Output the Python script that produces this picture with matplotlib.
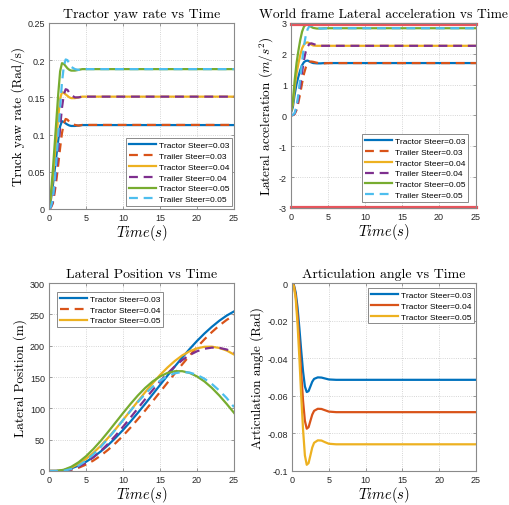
import matplotlib
matplotlib.use('Agg')
import matplotlib.pyplot as plt

plt.rcParams['font.family'] = ['Liberation Sans', 'DejaVu Sans']
plt.rcParams['mathtext.fontset'] = 'cm'
plt.rcParams['axes.unicode_minus'] = False

# time base for the transient plots
t_fast = [0, 0.25, 0.5, 0.75, 1.0, 1.25, 1.5, 1.75, 2.0, 2.25, 2.5, 2.75, 3.0, 3.5, 4.0, 4.5, 5.0, 6.0, 25]
# time base for lateral position
t_pos = list(range(0, 26))

# yaw rate (rad/s)
yaw_tractor_003 = [0, 0.012, 0.03, 0.051, 0.072, 0.093, 0.111, 0.118, 0.117, 0.115, 0.1134, 0.1122, 0.1116, 0.1116, 0.1122, 0.1128, 0.1128, 0.1128, 0.1128]
yaw_trailer_003 = [0, 0.0018, 0.0072, 0.021, 0.039, 0.06, 0.082, 0.102, 0.115, 0.121, 0.12, 0.117, 0.115, 0.113, 0.112, 0.113, 0.113, 0.113, 0.113]
yaw_tractor_004 = [0, 0.016, 0.04, 0.068, 0.096, 0.124, 0.148, 0.157, 0.156, 0.154, 0.152, 0.150, 0.149, 0.149, 0.150, 0.151, 0.151, 0.151, 0.151]
yaw_trailer_004 = [0, 0.0024, 0.0096, 0.028, 0.052, 0.08, 0.11, 0.136, 0.154, 0.161, 0.160, 0.156, 0.153, 0.150, 0.150, 0.151, 0.151, 0.151, 0.151]
yaw_tractor_005 = [0, 0.02, 0.05, 0.085, 0.12, 0.155, 0.185, 0.196, 0.195, 0.192, 0.189, 0.187, 0.186, 0.186, 0.187, 0.188, 0.188, 0.188, 0.188]
yaw_trailer_005 = [0, 0.003, 0.012, 0.035, 0.065, 0.1, 0.137, 0.17, 0.192, 0.201, 0.2, 0.195, 0.191, 0.188, 0.187, 0.188, 0.188, 0.188, 0.188]

# lateral acceleration (m/s^2)
acc_tractor_003 = [0.09, 0.27, 0.69, 1.02, 1.26, 1.47, 1.63, 1.73, 1.77, 1.78, 1.75, 1.72, 1.70, 1.69, 1.69, 1.70, 1.70, 1.70, 1.70]
acc_trailer_003 = [0, 0.012, 0.048, 0.18, 0.42, 0.72, 1.05, 1.35, 1.56, 1.68, 1.74, 1.75, 1.74, 1.71, 1.69, 1.69, 1.70, 1.70, 1.70]
acc_tractor_004 = [0.12, 0.36, 0.92, 1.36, 1.68, 1.96, 2.18, 2.30, 2.36, 2.37, 2.34, 2.30, 2.27, 2.26, 2.26, 2.26, 2.26, 2.26, 2.26]
acc_trailer_004 = [0, 0.016, 0.064, 0.24, 0.56, 0.96, 1.4, 1.8, 2.08, 2.24, 2.32, 2.34, 2.32, 2.28, 2.26, 2.26, 2.26, 2.26, 2.26]
acc_tractor_005 = [0.15, 0.45, 1.15, 1.7, 2.1, 2.45, 2.72, 2.88, 2.95, 2.96, 2.92, 2.87, 2.84, 2.82, 2.82, 2.83, 2.83, 2.83, 2.83]
acc_trailer_005 = [0, 0.02, 0.08, 0.3, 0.7, 1.2, 1.75, 2.25, 2.6, 2.8, 2.9, 2.92, 2.9, 2.85, 2.82, 2.82, 2.83, 2.83, 2.83]
acc_limit = 2.97

# lateral position (m)
pos_tractor_003 = [0, 0.03, 1.2, 4.1, 8.6, 14.7, 22.3, 31.3, 41.5, 53.0, 65.5, 78.8, 92.8, 107.3, 122.2, 137.2, 152.1, 166.8, 181.0, 194.7, 207.6, 219.4, 230.1, 239.7, 248.0, 254.7]
pos_trailer_003 = [0, 0, 0.2, 1.9, 5.2, 10.2, 16.7, 24.7, 34.0, 44.6, 56.3, 69.1, 82.7, 96.6, 111.2, 126.0, 140.9, 155.7, 170.2, 184.2, 197.6, 210.1, 221.6, 232.1, 241.1, 248.6]
pos_tractor_004 = [0, 0.05, 1.6, 5.4, 11.4, 19.3, 29.1, 40.4, 53.2, 66.9, 81.4, 96.3, 111.2, 125.9, 140.0, 153.2, 165.1, 175.6, 184.5, 191.1, 195.7, 198.2, 198.4, 196.4, 192.3, 185.9]
pos_trailer_004 = [0, 0, 0.3, 2.5, 6.9, 13.4, 21.9, 32.1, 43.7, 56.7, 70.6, 85.1, 99.9, 114.7, 129.2, 142.9, 155.6, 167.0, 177.0, 185.1, 191.1, 195.1, 196.9, 196.5, 193.9, 189.0]
pos_tractor_005 = [0, 0.06, 2.0, 6.7, 14.0, 23.6, 35.2, 48.3, 62.6, 77.5, 92.4, 106.9, 120.5, 132.6, 142.9, 150.8, 156.5, 159.2, 159.3, 156.5, 150.9, 142.9, 132.7, 120.6, 107.1, 92.8]
pos_trailer_005 = [0, 0, 0.35, 3.1, 8.6, 16.5, 26.6, 38.6, 52.0, 66.4, 81.1, 95.9, 110.0, 123.0, 134.5, 144.1, 151.3, 156.0, 157.9, 157.1, 153.4, 147.3, 138.9, 128.5, 116.5, 102.0]

# articulation angle (rad)
art_003 = [0, -0.001, -0.005, -0.013, -0.024, -0.036, -0.047, -0.055, -0.058, -0.0575, -0.055, -0.0525, -0.051, -0.0502, -0.0503, -0.0508, -0.0513, -0.0515, -0.0515]
art_004 = [0, -0.0013, -0.0067, -0.0173, -0.032, -0.048, -0.0627, -0.0733, -0.0775, -0.0767, -0.0733, -0.07, -0.068, -0.0669, -0.067, -0.0677, -0.0684, -0.0687, -0.0687]
art_005 = [0, -0.0017, -0.0083, -0.0217, -0.04, -0.06, -0.078, -0.0917, -0.0967, -0.0958, -0.0917, -0.0875, -0.085, -0.0837, -0.0838, -0.0847, -0.0855, -0.0858, -0.0858]

six_labels = ['Tractor Steer=0.03', 'Trailer Steer=0.03', 'Tractor Steer=0.04',
              'Trailer Steer=0.04', 'Tractor Steer=0.05', 'Trailer Steer=0.05']
three_labels = ['Tractor Steer=0.03', 'Tractor Steer=0.04', 'Tractor Steer=0.05']

c_blue, c_orange, c_yellow = '#0072BD', '#D95319', '#EDB120'
c_purple, c_green, c_cyan = '#7E2F8E', '#77AC30', '#4DBEEE'
colors6 = [c_blue, c_orange, c_yellow, c_purple, c_green, c_cyan]
dash = (0, (4, 2.6))
styles6 = ['-', dash, '-', dash, '-', dash]
lw = 1.6
serif = 'cmr10'

fig = plt.figure(figsize=(5.09, 5.06), dpi=100)
ax1 = fig.add_axes([0.0963, 0.585, 0.3635, 0.3676])
ax2 = fig.add_axes([0.5717, 0.587, 0.3635, 0.3656])
ax3 = fig.add_axes([0.0963, 0.0672, 0.3635, 0.3715])
ax4 = fig.add_axes([0.5737, 0.0672, 0.3615, 0.3715])


def style_axes(ax):
    for s in ax.spines.values():
        s.set_color('#8a8a8a')
        s.set_linewidth(0.8)
    ax.tick_params(direction='in', top=True, right=True, length=2.5, width=0.6,
                   labelsize=6.5, colors='#8a8a8a', labelcolor='#262626', pad=3)
    ax.grid(True, linestyle=':', color='#c8c8c8', linewidth=0.6)
    ax.set_axisbelow(True)
    ax.set_xlim(0, 25)
    ax.set_xticks([0, 5, 10, 15, 20, 25])
    ax.set_xlabel(r'$Time(s)$', fontsize=10.5, labelpad=0)


def add_legend(ax, loc, anchor):
    leg = ax.legend(loc=loc, bbox_to_anchor=anchor, borderaxespad=0, fontsize=6,
                    handlelength=3.3, labelspacing=0.36, handletextpad=0.3,
                    borderpad=0.35, fancybox=False, framealpha=1)
    leg.get_frame().set_edgecolor('#8a8a8a')
    leg.get_frame().set_linewidth(0.7)


# Tractor yaw rate
yaw_series = [yaw_tractor_003, yaw_trailer_003, yaw_tractor_004,
              yaw_trailer_004, yaw_tractor_005, yaw_trailer_005]
for y, c, ls, lab in zip(yaw_series, colors6, styles6, six_labels):
    ax1.plot(t_fast, y, color=c, linestyle=ls, lw=lw, label=lab)
style_axes(ax1)
ax1.set_ylim(0, 0.25)
ax1.set_yticks([0, 0.05, 0.1, 0.15, 0.2, 0.25])
ax1.set_yticklabels(['0', '0.05', '0.1', '0.15', '0.2', '0.25'])
ax1.set_title('Tractor yaw rate vs Time', fontfamily=serif, fontsize=10, pad=4)
ax1.set_ylabel('Truck yaw rate (Rad/s)', fontfamily=serif, fontsize=9.5, labelpad=2)
add_legend(ax1, 'lower right', (0.99, 0.015))

# Lateral acceleration
acc_series = [acc_tractor_003, acc_trailer_003, acc_tractor_004,
              acc_trailer_004, acc_tractor_005, acc_trailer_005]
for y, c, ls, lab in zip(acc_series, colors6, styles6, six_labels):
    ax2.plot(t_fast, y, color=c, linestyle=ls, lw=lw, label=lab)
ax2.axhline(acc_limit, color='#e8545c', lw=2.3, clip_on=False)
ax2.axhline(-acc_limit, color='#e8545c', lw=2.3, clip_on=False)
style_axes(ax2)
ax2.set_ylim(-3, 3)
ax2.set_yticks([-3, -2, -1, 0, 1, 2, 3])
ax2.set_title('World frame Lateral acceleration vs Time', fontfamily=serif, fontsize=9.7, pad=4)
ax2.set_ylabel(r'Lateral acceleration $(m/s^2)$', fontfamily=serif, fontsize=9.5, labelpad=2)
add_legend(ax2, 'lower right', (0.957, 0.032))

# Lateral position
pos_series = [pos_tractor_003, pos_trailer_003, pos_tractor_004,
              pos_trailer_004, pos_tractor_005, pos_trailer_005]
for i, (y, c, ls) in enumerate(zip(pos_series, colors6, styles6)):
    lab = three_labels[i] if i < 3 else None
    ax3.plot(t_pos, y, color=c, linestyle=ls, lw=lw, label=lab)
style_axes(ax3)
ax3.set_ylim(0, 300)
ax3.set_yticks([0, 50, 100, 150, 200, 250, 300])
ax3.set_title('Lateral Position vs Time', fontfamily=serif, fontsize=10, pad=4)
ax3.set_ylabel('Lateral Position (m)', fontfamily=serif, fontsize=9.5, labelpad=2)
add_legend(ax3, 'upper left', (0.043, 0.952))

# Articulation angle
for y, c, lab in zip([art_003, art_004, art_005], [c_blue, c_orange, c_yellow], three_labels):
    ax4.plot(t_fast, y, color=c, lw=lw, label=lab)
style_axes(ax4)
ax4.set_ylim(-0.1, 0)
ax4.set_yticks([-0.1, -0.08, -0.06, -0.04, -0.02, 0])
ax4.set_yticklabels(['-0.1', '-0.08', '-0.06', '-0.04', '-0.02', '0'])
ax4.set_title('Articulation angle vs Time', fontfamily=serif, fontsize=10, pad=4)
ax4.set_ylabel('Articulation angle (Rad)', fontfamily=serif, fontsize=9.5, labelpad=2)
add_legend(ax4, 'upper right', (0.989, 0.973))

fig.savefig('out.png', dpi=100)
